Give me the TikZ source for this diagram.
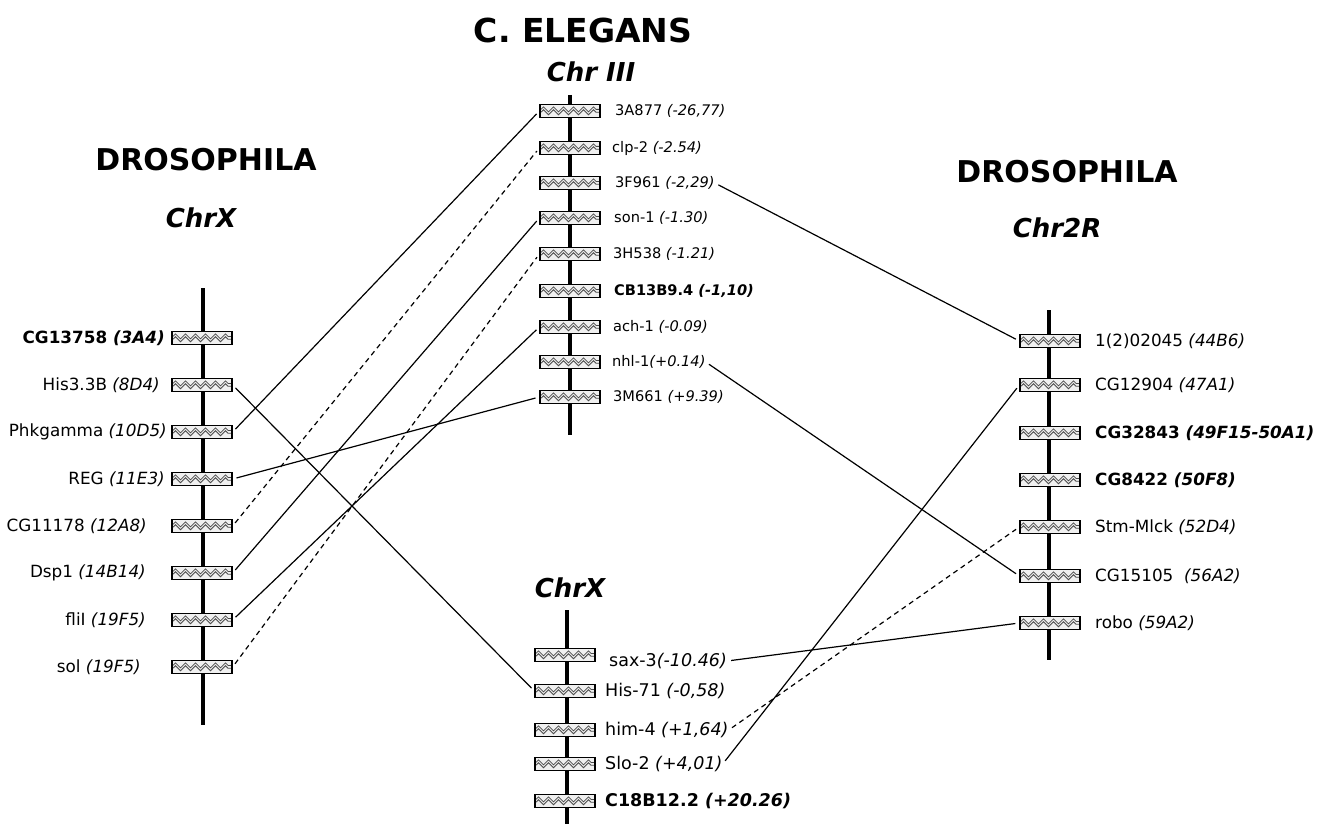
\documentclass[tikz,border=0pt]{standalone}
\usepackage{fontspec}
\setmainfont{DejaVu Sans}
\usetikzlibrary{decorations.pathmorphing}
\begin{document}
\begin{tikzpicture}[x=1pt,y=-1pt,
  chrom/.style={line width=4pt},
  zz/.style={black!70, line width=0.8pt, decorate, decoration={zigzag, segment length=10pt, amplitude=2.5pt}},
  gene/.style={draw, line width=1.3pt, fill=black!6, minimum width=60pt, minimum height=13pt, inner sep=0pt,
    path picture={
      \draw[zz] ([xshift=1pt,yshift=-1.2pt]path picture bounding box.west) -- ([xshift=-1pt,yshift=-1.2pt]path picture bounding box.east);
      \draw[zz] ([xshift=1pt,yshift=1.6pt]path picture bounding box.west) -- ([xshift=-1pt,yshift=1.6pt]path picture bounding box.east);}},
  lblL/.style={font=\fontsize{16.8}{19}\selectfont, inner sep=0pt},
  lblT/.style={font=\fontsize{14.6}{17}\selectfont, inner sep=0pt},
  lblB/.style={font=\fontsize{17.5}{20}\selectfont, inner sep=0pt},
  link/.style={line width=1.2pt, shorten <=4pt, shorten >=4pt},
  dlink/.style={link, dash pattern=on 5pt off 4pt},
  big/.style={font=\fontsize{30}{34}\selectfont\bfseries, inner sep=0pt},
  chr/.style={font=\fontsize{26}{30}\selectfont\bfseries\itshape, inner sep=0pt}]
\useasboundingbox (0,0) rectangle (1322,824);

% titles
\node[big, font=\fontsize{33}{36}\selectfont\bfseries] (tce) at (583,30) {C. ELEGANS};
\node[chr] (tc3) at (591,72) {Chr III};
\node[big] (tdl) at (206,160) {DROSOPHILA};
\node[chr] (tlx) at (201,218) {ChrX};
\node[big] (tdr) at (1067,172) {DROSOPHILA};
\node[chr] (tr2) at (1057,228) {Chr2R};
\node[chr] (tbx) at (570,588) {ChrX};

% chromosomes
\coordinate (l1) at (203,288); \coordinate (l2) at (203,725);
\coordinate (c1) at (570,95);  \coordinate (c2) at (570,435);
\coordinate (b1) at (567,610); \coordinate (b2) at (567,824);
\coordinate (r1) at (1049,310); \coordinate (r2) at (1049,660);
\draw[chrom] (l1) -- (l2);
\draw[chrom] (c1) -- (c2);
\draw[chrom] (b1) -- (b2);
\draw[chrom] (r1) -- (r2);

% left genes
\node[gene] (L1) at (202,338) {};
\node[gene] (L2) at (202,385) {};
\node[gene] (L3) at (202,432) {};
\node[gene] (L4) at (202,479) {};
\node[gene] (L5) at (202,526) {};
\node[gene] (L6) at (202,573) {};
\node[gene] (L7) at (202,620) {};
\node[gene] (L8) at (202,667) {};
\node[lblL, anchor=east] (tL1) at (165,338) {\bfseries CG13758 \textit{(3A4)}};
\node[lblL, anchor=east] (tL2) at (160,385) {His3.3B \textit{(8D4)}};
\node[lblL, anchor=east] (tL3) at (167,432) {Phkgamma \textit{(10D5)}};
\node[lblL, anchor=east] (tL4) at (165,479) {REG \textit{(11E3)}};
\node[lblL, anchor=east] (tL5) at (147,526) {CG11178 \textit{(12A8)}};
\node[lblL, anchor=east] (tL6) at (146,573) {Dsp1 \textit{(14B14)}};
\node[lblL, anchor=east] (tL7) at (146,620) {fliI \textit{(19F5)}};
\node[lblL, anchor=east] (tL8) at (141,667) {sol \textit{(19F5)}};

% center top genes
\node[gene] (C1) at (570,111) {};
\node[gene] (C2) at (570,148) {};
\node[gene] (C3) at (570,183) {};
\node[gene] (C4) at (570,218) {};
\node[gene] (C5) at (570,254) {};
\node[gene] (C6) at (570,291) {};
\node[gene] (C7) at (570,327) {};
\node[gene] (C8) at (570,362) {};
\node[gene] (C9) at (570,397) {};
\node[lblT, anchor=west] (tC1) at (615,111) {3A877 \textit{(-26,77)}};
\node[lblT, anchor=west] (tC2) at (612,148) {clp-2 \textit{(-2.54)}};
\node[lblT, anchor=west] (tC3) at (615,183) {3F961 \textit{(-2,29)}};
\node[lblT, anchor=west] (tC4) at (614,218) {son-1 \textit{(-1.30)}};
\node[lblT, anchor=west] (tC5) at (613,254) {3H538 \textit{(-1.21)}};
\node[lblT, anchor=west] (tC6) at (614,291) {\bfseries CB13B9.4 \textit{(-1,10)}};
\node[lblT, anchor=west] (tC7) at (613,327) {ach-1 \textit{(-0.09)}};
\node[lblT, anchor=west] (tC8) at (612,362) {nhl-1\textit{(+0.14)}};
\node[lblT, anchor=west] (tC9) at (613,397) {3M661 \textit{(+9.39)}};

% center bottom genes
\node[gene] (B1) at (565,655) {};
\node[gene] (B2) at (565,691) {};
\node[gene] (B3) at (565,730) {};
\node[gene] (B4) at (565,764) {};
\node[gene] (B5) at (565,801) {};
\node[lblB, anchor=west] (tB1) at (609,661) {sax-3\textit{(-10.46)}};
\node[lblB, anchor=west] (tB2) at (605,691) {His-71 \textit{(-0,58)}};
\node[lblB, anchor=west] (tB3) at (605,730) {him-4 \textit{(+1,64)}};
\node[lblB, anchor=west] (tB4) at (605,764) {Slo-2 \textit{(+4,01)}};
\node[lblB, anchor=west] (tB5) at (605,801) {\bfseries C18B12.2 \textit{(+20.26)}};

% right genes
\node[gene] (R1) at (1050,341) {};
\node[gene] (R2) at (1050,385) {};
\node[gene] (R3) at (1050,433) {};
\node[gene] (R4) at (1050,480) {};
\node[gene] (R5) at (1050,527) {};
\node[gene] (R6) at (1050,576) {};
\node[gene] (R7) at (1050,623) {};
\node[lblL, anchor=west] (tR1) at (1095,341) {1(2)02045 \textit{(44B6)}};
\node[lblL, anchor=west] (tR2) at (1095,385) {CG12904 \textit{(47A1)}};
\node[lblL, anchor=west] (tR3) at (1095,433) {\bfseries CG32843 \textit{(49F15-50A1)}};
\node[lblL, anchor=west] (tR4) at (1095,480) {\bfseries CG8422 \textit{(50F8)}};
\node[lblL, anchor=west] (tR5) at (1095,527) {Stm-Mlck \textit{(52D4)}};
\node[lblL, anchor=west] (tR6) at (1095,576) {CG15105 \ \textit{(56A2)}};
\node[lblL, anchor=west] (tR7) at (1095,623) {robo \textit{(59A2)}};

% connectors left - center
\draw[link] (L3.east) -- (C1.west);
\draw[dlink] (L5.east) -- (C2.west);
\draw[link] (L6.east) -- (C4.west);
\draw[dlink] (L8.east) -- (C5.west);
\draw[link] (L7.east) -- (C7.west);
\draw[link] (L4.east) -- (C9.west);
\draw[link] (L2.east) -- (B2.west);

% connectors center - right
\draw[link] (tC3.east) -- (R1.west);
\draw[link] (tC8.east) -- (R6.west);
\draw[link] (tB1.east) -- (R7.west);
\draw[dlink] (tB3.east) -- (R5.west);
\draw[link] (tB4.east) -- (R2.west);
\end{tikzpicture}
\end{document}
